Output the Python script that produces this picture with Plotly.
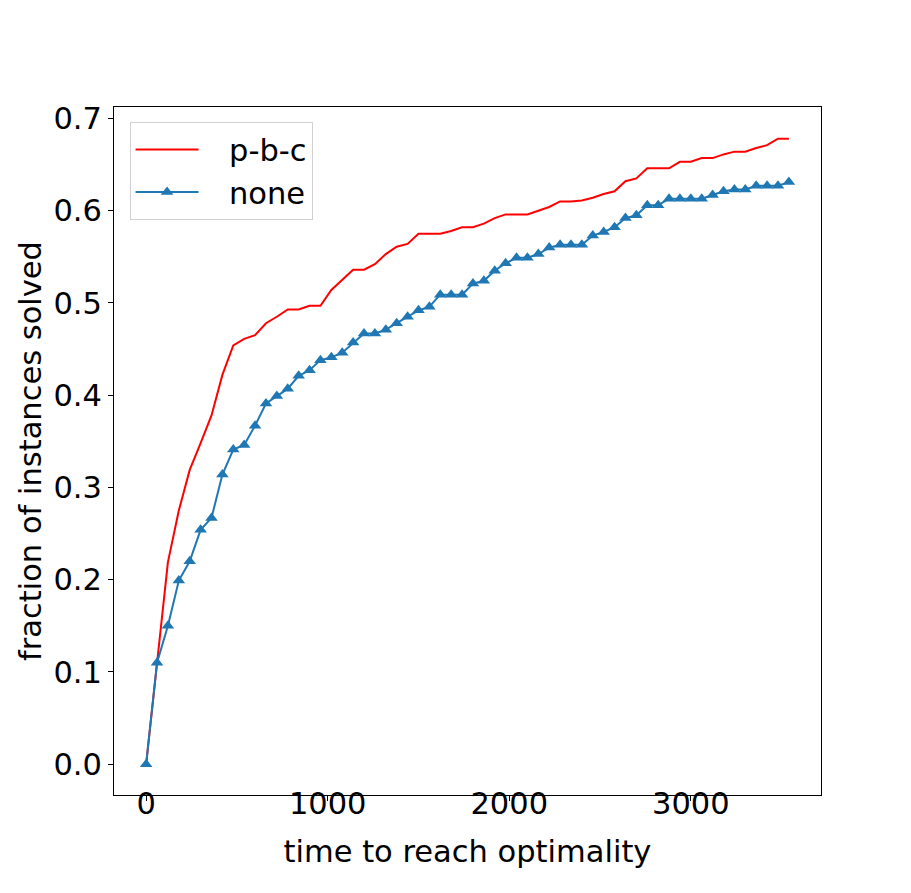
import plotly.graph_objects as go

# time grid (seconds), one sample per minute
times = [0, 60, 120, 180, 240, 300, 360, 420, 480, 540,
         600, 660, 720, 780, 840, 900, 960, 1020, 1080, 1140,
         1200, 1260, 1320, 1380, 1440, 1500, 1560, 1620, 1680, 1740,
         1800, 1860, 1920, 1980, 2040, 2100, 2160, 2220, 2280, 2340,
         2400, 2460, 2520, 2580, 2640, 2700, 2760, 2820, 2880, 2940,
         3000, 3060, 3120, 3180, 3240, 3300, 3360, 3420, 3480, 3540]

# fraction of instances solved
pbc = [0.0, 0.112, 0.219, 0.275, 0.319, 0.348, 0.378, 0.422, 0.454, 0.461,
       0.465, 0.478, 0.485, 0.493, 0.493, 0.497, 0.497, 0.514, 0.525, 0.536,
       0.536, 0.542, 0.553, 0.561, 0.564, 0.575, 0.575, 0.575, 0.578, 0.582,
       0.582, 0.586, 0.592, 0.596, 0.596, 0.596, 0.600, 0.604, 0.610, 0.610,
       0.611, 0.614, 0.618, 0.621, 0.632, 0.635, 0.646, 0.646, 0.646, 0.653,
       0.653, 0.657, 0.657, 0.661, 0.664, 0.664, 0.668, 0.671, 0.678, 0.678]

none = [0.0, 0.110, 0.150, 0.199, 0.220, 0.254, 0.267, 0.314, 0.341, 0.346,
        0.367, 0.391, 0.399, 0.407, 0.421, 0.427, 0.438, 0.441, 0.446, 0.457,
        0.467, 0.467, 0.471, 0.478, 0.485, 0.492, 0.496, 0.509, 0.509, 0.509,
        0.521, 0.524, 0.535, 0.543, 0.549, 0.549, 0.553, 0.560, 0.563, 0.563,
        0.563, 0.573, 0.577, 0.582, 0.592, 0.595, 0.606, 0.606, 0.613, 0.613,
        0.613, 0.613, 0.617, 0.621, 0.623, 0.623, 0.627, 0.627, 0.627, 0.631]

x_ticks = [0, 1000, 2000, 3000]
y_ticks = [0.0, 0.1, 0.2, 0.3, 0.4, 0.5, 0.6, 0.7]
x_range = [-177, 3717]
y_range = [-0.0334, 0.7124]

FONT = "DejaVu Sans"
FS = 30.5
PAD = "\u00a0\u00a0\u2009"  # push legend text away from the line sample
fig = go.Figure()
fig.add_trace(go.Scatter(x=times, y=pbc, mode="lines", name=PAD + "p-b-c",
                         legendgroup="a",
                         line=dict(color="#ff0000", width=2)))
# second series goes on the overlay x axis (same range), so that axis gets drawn
fig.add_trace(go.Scatter(x=times, y=none, mode="lines+markers", name=PAD + "none",
                         legendgroup="b", xaxis="x2",
                         line=dict(color="#1f77b4", width=2),
                         marker=dict(symbol="triangle-up", size=11, color="#1f77b4")))

axis_common = dict(showline=True, mirror=True, linecolor="black", linewidth=1,
                   ticks="outside", ticklen=5, tickwidth=1, tickcolor="black",
                   showgrid=False, zeroline=False,
                   tickfont=dict(family=FONT, size=FS, color="black"))

# page body adds an 8px offset, so the figure is a bit smaller than the window
fig.update_layout(
    width=903, height=885,
    margin=dict(l=106, r=90, t=99, b=98),
    paper_bgcolor="white", plot_bgcolor="white",
    font=dict(family=FONT, size=FS, color="black"),
    showlegend=True,
    legend=dict(x=0.022, y=0.978, xanchor="left", yanchor="top",
                bordercolor="#d0d0d0", borderwidth=1, bgcolor="white",
                traceorder="grouped", tracegroupgap=0,
                itemwidth=63, font=dict(family=FONT, size=FS)),
    # main x axis: frame and ticks only
    xaxis=dict(range=x_range, tickvals=x_ticks, showticklabels=False,
               **axis_common),
    # label-only overlay axis, sits a little higher so labels hug the ticks
    xaxis2=dict(overlaying="x", anchor="free", position=0.018, side="bottom",
                range=x_range, tickvals=x_ticks,
                ticktext=[str(v) for v in x_ticks],
                showline=False, ticks="", showgrid=False, zeroline=False,
                tickfont=dict(family=FONT, size=FS, color="black"),
                title=dict(text="time to reach optimality", standoff=20,
                           font=dict(family=FONT, size=FS))),
    yaxis=dict(range=y_range, tickvals=y_ticks,
               ticktext=[f"{v:.1f}" for v in y_ticks],
               title=dict(text="fraction of instances solved", standoff=2,
                          font=dict(family=FONT, size=FS)),
               **axis_common),
)

fig.write_html("out.html")
